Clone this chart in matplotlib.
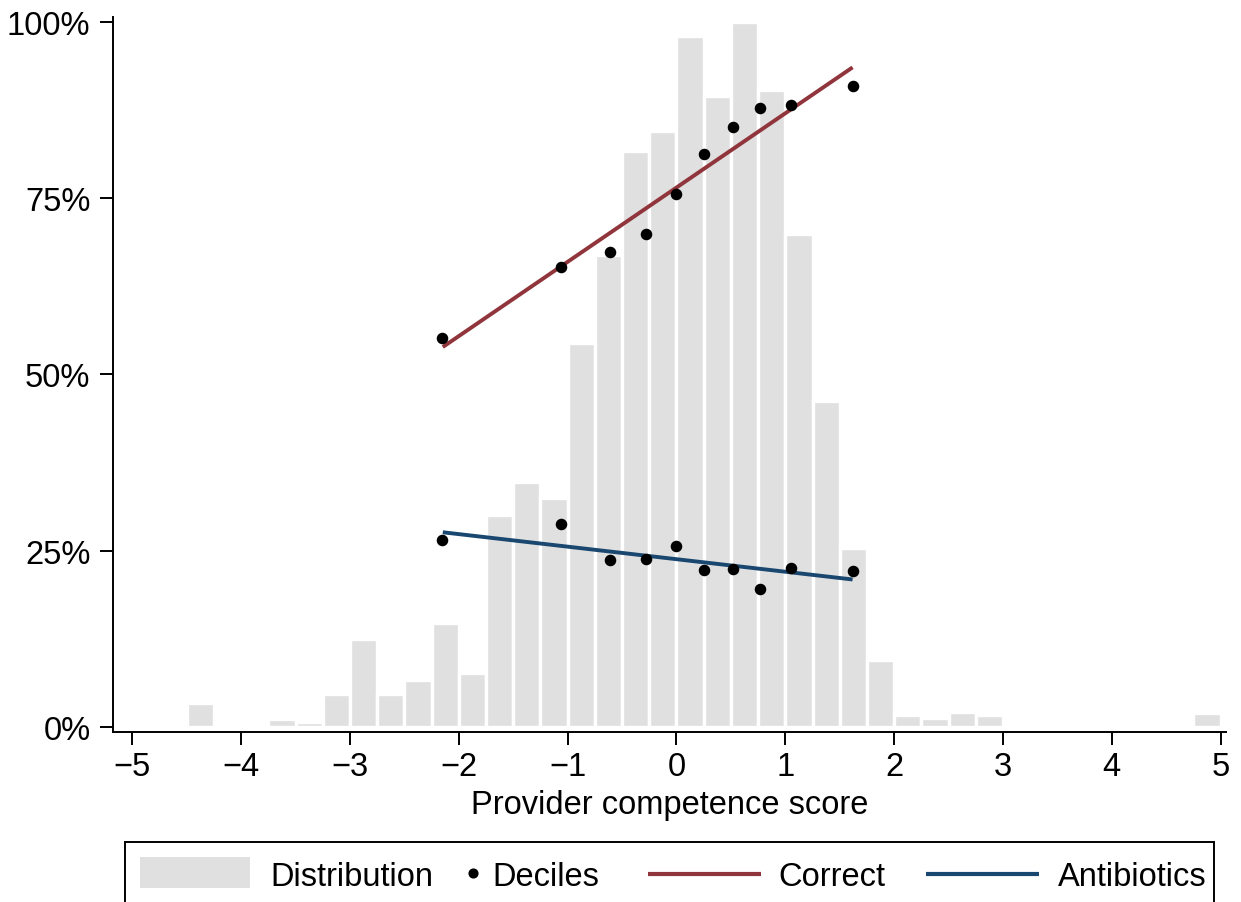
import matplotlib
matplotlib.use("Agg")
import matplotlib.pyplot as plt
import numpy as np
from matplotlib.lines import Line2D
from matplotlib.patches import Rectangle
from matplotlib.ticker import FuncFormatter

plt.rcParams['font.family'] = ['Liberation Sans', 'DejaVu Sans']

# --- Histogram of provider competence (rescaled so the tallest bin = 100%) ---
bin_start = -4.50
bin_width = 0.25
dist_heights = [3.3, 0, 0, 1.1, 0.6, 4.6, 12.5, 4.6, 6.6, 14.7,
                7.6, 30.0, 34.8, 32.4, 54.4, 67.0, 81.7, 84.5, 98.1, 89.6,
                100.0, 90.4, 70.0, 46.3, 25.3, 9.5, 1.6, 1.3, 2.1, 1.6,
                0, 0, 0, 0, 0, 0, 0, 1.9]

# --- Decile means of competence and outcome shares ---
decile_x = [-2.156, -1.063, -0.612, -0.281, -0.006, 0.255, 0.521, 0.769, 1.051, 1.621]
correct_pct = [55.2, 65.2, 67.4, 70.0, 75.6, 81.3, 85.1, 87.9, 88.2, 90.9]
antibiotics_pct = [26.5, 28.8, 23.6, 23.8, 25.6, 22.2, 22.4, 19.6, 22.5, 22.1]

# --- Linear fits (endpoints over the decile range) ---
fit_x = [-2.147, 1.618]
correct_fit = [53.9, 93.6]
antibiotics_fit = [27.6, 20.9]

x_ticks = [-5, -4, -3, -2, -1, 0, 1, 2, 3, 4, 5]
y_ticks = [0, 25, 50, 75, 100]

GRAY = '#e0e0e0'
MAROON = '#90353b'
NAVY = '#1a476f'
FS = 23.5

W, H = 1241, 903
fig = plt.figure(figsize=(W / 100, H / 100), dpi=100)
ax = fig.add_axes([112.7 / W, 1 - 733.3 / H, (1226 - 112.7) / W, (733.3 - 18) / H])

edges = bin_start + bin_width * np.arange(len(dist_heights))
ax.bar(edges, dist_heights, width=bin_width, align='edge', color=GRAY,
       edgecolor='white', linewidth=2.4, zorder=1)

ax.plot(fit_x, correct_fit, color=MAROON, lw=2.8, solid_capstyle='butt', zorder=2)
ax.plot(fit_x, antibiotics_fit, color=NAVY, lw=2.8, solid_capstyle='butt', zorder=2)
ax.plot(decile_x, correct_pct, 'o', color='black', ms=7.3, zorder=3)
ax.plot(decile_x, antibiotics_pct, 'o', color='black', ms=7.3, zorder=3)

ax.set_xlim(-5.18, 5.049)
ax.set_ylim(-0.795, 100.75)
ax.set_xticks(x_ticks)
ax.set_yticks(y_ticks)
ax.yaxis.set_major_formatter(FuncFormatter(lambda v, _: f'{v:.0f}%'))

for side in ['top', 'right']:
    ax.spines[side].set_visible(False)
for side in ['left', 'bottom']:
    ax.spines[side].set_linewidth(1.4)
ax.tick_params(axis='both', direction='out', length=9.5, width=1.4, labelsize=FS)
ax.tick_params(axis='x', pad=4)
ax.tick_params(axis='y', pad=6.5)
ax.set_xlabel('Provider competence score', fontsize=FS, labelpad=5)


# --- Legend drawn in figure pixel coordinates ---
def fx(px):
    return px / W


def fy(py):
    return 1 - py / H


fig.add_artist(Rectangle((fx(125), fy(930)), fx(1214) - fx(125), fy(843.3) - fy(930),
                         transform=fig.transFigure, fill=False, edgecolor='black',
                         linewidth=1.4, clip_on=False))
fig.add_artist(Rectangle((fx(140), fy(889)), fx(250) - fx(140), fy(858) - fy(889),
                         transform=fig.transFigure, facecolor=GRAY, edgecolor='none'))
fig.add_artist(Line2D([fx(472.7)], [fy(874)], transform=fig.transFigure,
                      marker='o', ms=6.3, color='black', ls='none'))
fig.add_artist(Line2D([fx(647.7), fx(761)], [fy(875), fy(875)], transform=fig.transFigure,
                      color=MAROON, lw=3.0, solid_capstyle='butt'))
fig.add_artist(Line2D([fx(926), fx(1039)], [fy(875), fy(875)], transform=fig.transFigure,
                      color=NAVY, lw=3.0, solid_capstyle='butt'))

baseline = fy(886.5)
for label, left in [('Distribution', 270), ('Deciles', 492),
                    ('Correct', 778), ('Antibiotics', 1058)]:
    fig.text(fx(left), baseline, label, fontsize=FS, ha='left', va='baseline')

fig.savefig('out.png', dpi=100)
